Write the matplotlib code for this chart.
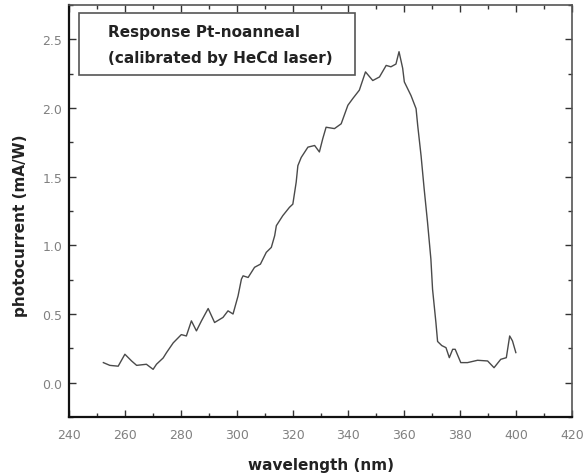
import matplotlib
matplotlib.use("Agg")
import matplotlib.pyplot as plt
from matplotlib.ticker import MultipleLocator
from matplotlib.patches import Rectangle

wavelength = [252.3, 254.6, 257.6, 260.0, 262.4, 264.2, 267.7, 270.1, 271.3, 273.7,
              274.9, 277.3, 280.2, 282.0, 283.8, 285.6, 287.4, 289.8, 292.1, 295.1,
              296.9, 298.7, 300.5, 301.7, 302.3, 304.1, 306.4, 308.5, 310.6, 312.4,
              313.6, 314.2, 316.5, 318.9, 320.1, 321.3, 321.9, 323.1, 325.5, 327.9,
              329.6, 330.8, 332.0, 335.0, 337.4, 339.8, 341.6, 343.9, 346.1, 348.7,
              351.1, 353.5, 355.2, 357.0, 358.1, 359.4, 360.0, 362.4, 364.2, 364.8,
              366.0, 367.1, 368.3, 369.5, 370.1, 371.3, 371.9, 373.4, 374.9, 376.1,
              377.3, 378.2, 380.2, 382.6, 386.2, 389.8, 392.1, 394.5, 396.5, 397.7,
              398.7, 399.9]
photocurrent = [0.146, 0.126, 0.12, 0.207, 0.158, 0.126, 0.134, 0.097, 0.134, 0.18,
                0.219, 0.29, 0.35, 0.34, 0.45, 0.377, 0.45, 0.54, 0.438, 0.475,
                0.523, 0.5, 0.632, 0.754, 0.778, 0.766, 0.84, 0.863, 0.949, 0.985,
                1.07, 1.143, 1.216, 1.277, 1.30, 1.46, 1.58, 1.64, 1.715, 1.727,
                1.68, 1.776, 1.86, 1.85, 1.885, 2.02, 2.07, 2.13, 2.263, 2.20,
                2.226, 2.31, 2.30, 2.32, 2.41, 2.29, 2.19, 2.09, 1.995, 1.87,
                1.65, 1.41, 1.168, 0.90, 0.68, 0.438, 0.30, 0.27, 0.255, 0.182,
                0.243, 0.243, 0.146, 0.146, 0.163, 0.158, 0.109, 0.17, 0.182, 0.34,
                0.304, 0.219]

legend_lines = ["Response Pt-noanneal", "(calibrated by HeCd laser)"]

plt.rcParams['font.family'] = ['DejaVu Sans']

fig = plt.figure(figsize=(5.85, 4.77), dpi=100)
ax = fig.add_axes([69/585, 1-418/477, (572-69)/585, (418-6)/477])

ax.plot(wavelength, photocurrent, color='#4a4a4a', lw=1.0)

ax.set_xlim(240, 420)
ax.set_ylim(-0.25, 2.75)
ax.xaxis.set_major_locator(MultipleLocator(20))
ax.xaxis.set_minor_locator(MultipleLocator(10))
ax.yaxis.set_major_locator(MultipleLocator(0.5))
ax.yaxis.set_minor_locator(MultipleLocator(0.25))
ax.tick_params(which='both', direction='in', top=True, right=True,
               colors='#333333', labelcolor='#808080', labelsize=9, width=1.0)
ax.tick_params(which='major', length=5)
ax.tick_params(which='minor', length=3)
ax.tick_params(axis='x', which='major', pad=8)
ax.tick_params(axis='y', which='major', pad=5)
ax.yaxis.set_major_formatter(plt.FuncFormatter(lambda v, p: f"{v:.1f}"))

for side in ['left', 'bottom']:
    ax.spines[side].set_linewidth(1.6)
    ax.spines[side].set_color('#111111')
for side in ['top', 'right']:
    ax.spines[side].set_linewidth(1.2)
    ax.spines[side].set_color('#555555')

ax.set_xlabel('wavelength (nm)', fontsize=11, fontweight='bold', color='#222222', va='center')
ax.xaxis.set_label_coords(0.5, -0.1165)
ax.set_ylabel('photocurrent (mA/W)', fontsize=11, fontweight='bold', color='#222222', va='center')
ax.yaxis.set_label_coords(-0.0974, 0.466)

# legend-like box
x0, x1 = 79, 355
y0, y1 = 14, 76
rect = Rectangle((x0/585, 1-y1/477), (x1-x0)/585, (y1-y0)/477,
                 transform=fig.transFigure, fill=False, edgecolor='#555555', lw=1.2)
fig.add_artist(rect)
fig.text(108/585, 1-33/477, legend_lines[0], fontsize=11, fontweight='bold',
         color='#222222', va='center', ha='left')
fig.text(108/585, 1-58/477, legend_lines[1], fontsize=11, fontweight='bold',
         color='#222222', va='center', ha='left')

fig.savefig('out.png', dpi=100)
